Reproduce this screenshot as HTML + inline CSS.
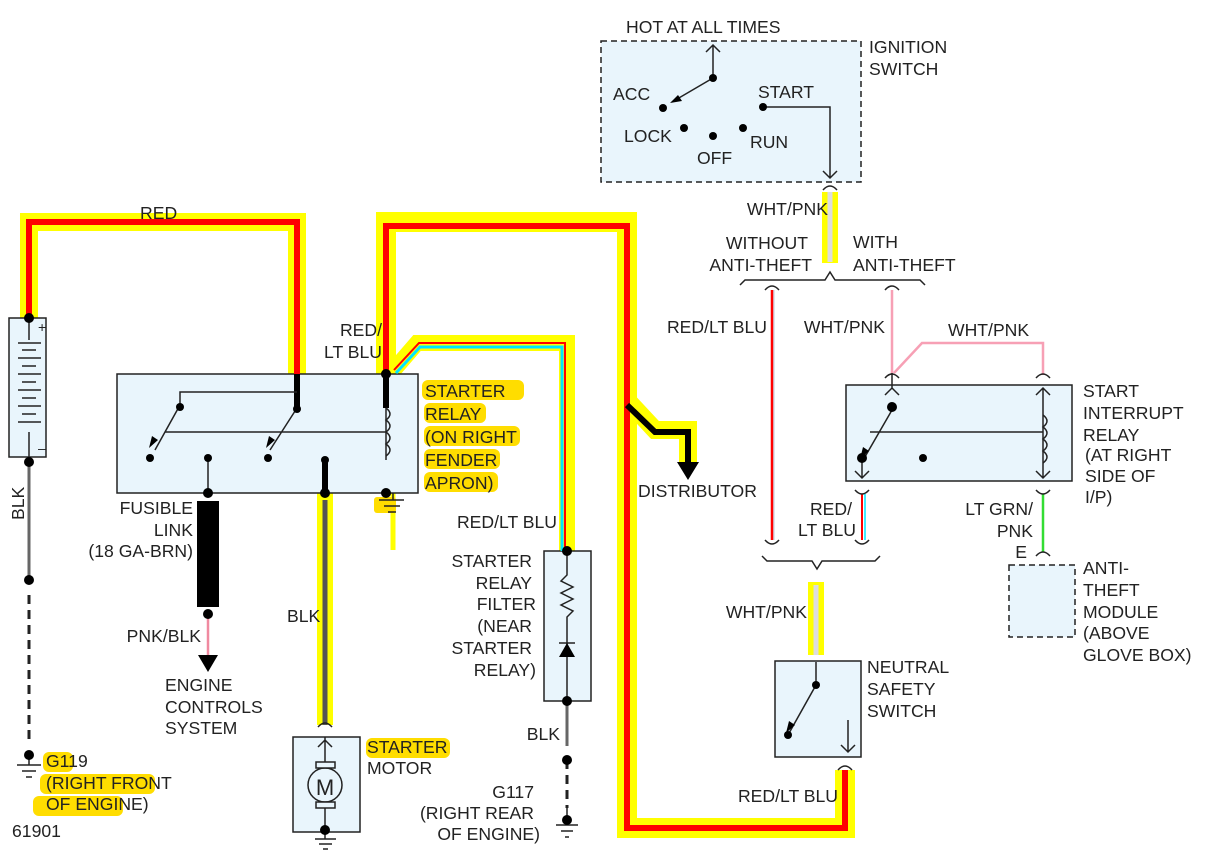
<!DOCTYPE html>
<html><head><meta charset="utf-8"><style>
html,body{margin:0;padding:0;background:#fff;}
svg{display:block;font-family:"Liberation Sans",Arial,sans-serif;font-size:17.6px;fill:#222;}
</style></head><body>
<svg width="1217" height="850" viewBox="0 0 1217 850" xmlns="http://www.w3.org/2000/svg">
<g fill="none" stroke-linejoin="miter">
<path d="M29 318 V222 H297 V408" stroke="#ffff00" stroke-width="18"/>
<path d="M386 380 V222 H627 V828 H845 V770" stroke="#ffff00" stroke-width="20"/>
<path d="M392 372 L417 343 H567 V551" stroke="#ffff00" stroke-width="16"/>
<path d="M627 400 L655 430 H688 V462" stroke="#ffff00" stroke-width="18"/>
<path d="M325 460 V725" stroke="#ffff00" stroke-width="16"/>
<path d="M830 192 V263" stroke="#ffff00" stroke-width="16"/>
<path d="M816 582 V655" stroke="#ffff00" stroke-width="16"/>
<path d="M393 492 V550" stroke="#ffff00" stroke-width="5"/>
</g>
<g fill="#ffdd00">
<rect x="422" y="380" width="102" height="20" rx="6"/>
<rect x="424" y="403" width="62" height="20" rx="6"/>
<rect x="424" y="426" width="96" height="20" rx="6"/>
<rect x="424" y="449" width="76" height="20" rx="6"/>
<rect x="424" y="472" width="74" height="20" rx="6"/>
<rect x="366" y="738" width="84" height="20" rx="6"/>
<rect x="43" y="752" width="30" height="20" rx="6"/>
<rect x="40" y="774" width="115" height="20" rx="6"/>
<rect x="33" y="796" width="90" height="20" rx="6"/>
<rect x="374" y="497" width="22" height="16" rx="3"/>
</g>
<g stroke="#222" stroke-width="1.5" fill="#e9f5fc">
<rect x="9" y="318" width="37" height="139"/>
<rect x="117" y="374" width="301" height="119"/>
<rect x="846" y="385" width="226" height="96"/>
<rect x="775" y="661" width="86" height="96"/>
<rect x="544" y="551" width="47" height="150"/>
<rect x="293" y="737" width="67" height="95"/>
<rect x="601" y="41" width="260" height="141" stroke-dasharray="6 4"/>
<rect x="1009" y="565" width="66" height="72" stroke-dasharray="6 4"/>
</g>
<g fill="none">
<path d="M29 318 V222 H297 V408" stroke="#ff0000" stroke-width="6"/>
<path d="M386 380 V226 H627 V828 H845 V770" stroke="#ff0000" stroke-width="6"/>
<path d="M394 370 L419 343 H565 V551" stroke="#ff0000" stroke-width="2"/>
<path d="M396 373 L420 347 H562 V551" stroke="#00e5ff" stroke-width="3"/>
<path d="M627 405 L655 432 H688 V462" stroke="#000" stroke-width="6"/>
<path d="M297 374 V408 M386 374 V408 M325 460 V493" stroke="#000" stroke-width="6"/>
<path d="M325 500 V725" stroke="#555" stroke-width="5"/>
<path d="M830 192 V262" stroke="#ddd" stroke-width="5"/>
<path d="M816 585 V655" stroke="#ddd" stroke-width="5"/>
<path d="M29 462 V580 M567 701 V746" stroke="#666" stroke-width="3"/>
<path d="M29 595 V740 M567 760 V808" stroke="#222" stroke-width="3" stroke-dasharray="9 6"/>
<path d="M208 612 V655" stroke="#f08aa0" stroke-width="2.5"/>
<path d="M772 290 V540" stroke="#ff0000" stroke-width="2.5"/>
<path d="M774 290 V540" stroke="#bcd" stroke-width="1"/>
<path d="M892 290 V375 M894 373 L922 343 H1043 V375" stroke="#f7a0b5" stroke-width="2.5"/>
<path d="M862 494 V540" stroke="#ff0000" stroke-width="2"/>
<path d="M865 494 V540" stroke="#00e5ff" stroke-width="1.5"/>
<path d="M1043 494 V552" stroke="#33dd33" stroke-width="2.5"/>
<g stroke="#222" stroke-width="1.5">
<path d="M29 318 V340 M18 343 H41 M22 350 H36 M18 358 H41 M22 366 H36 M18 374 H41 M22 382 H36 M18 390 H41 M22 398 H36 M18 406 H41 M22 414 H36 M18 422 H41 M29 432 V457"/>
<path d="M297 392 H180 V405 L155 450 M297 408 L270 450 M208 458 V493 M386 408 V460 M165 432 H386" />
<path d="M386 408 q8 6 0 12 q8 6 0 12 q8 6 0 12 q8 6 0 12" />
<path d="M713 78 V45 M706 52 L713 45 L720 52 M713 78 L672 102 M763 107 H830 V178 M823 171 L830 178 L837 171"/>
<path d="M892 373 V388 M885 395 L892 388 L899 395 M892 410 L862 462 V478 M855 471 L862 478 L869 471 M1043 388 V478 M1036 395 L1043 388 L1050 395 M1036 471 L1043 478 L1050 471 M870 432 H1043"/>
<path d="M1043 415 q8 6 0 12 q8 6 0 12 q8 6 0 12 q8 6 0 12"/>
<path d="M816 662 V685 L788 735 M848 720 V752 M841 745 L848 752 L855 745"/>
<path d="M567 551 V575 l-6 6 l12 6 l-12 6 l12 6 l-12 6 l12 6 l-6 6 V701 M559 643 H575"/>
<path d="M325 737 V790 M318 747 L325 740 L332 747 M325 800 V832"/>
<path d="M740 285 l5 -5 H825 l5 -8 l5 8 H920 l5 5"/>
<path d="M762 556 l5 5 H812 l5 8 l5 -8 H875 l5 -5"/>
<path d="M765 290 q7 -8 14 0 M885 290 q7 -8 14 0 M765 540 q7 8 14 0 M855 540 q7 8 14 0 M855 490 q7 8 14 0 M1036 490 q7 8 14 0 M885 378 q7 -8 14 0 M1036 378 q7 -8 14 0 M1036 556 q7 -8 14 0 M823 190 q7 -8 14 0 M318 727 q7 -8 14 0 M838 770 q7 -8 14 0"/>
<path d="M17 765 H41 M22 771 H36 M26 777 H32 M379 500 H404 M384 506 H400 M388 512 H396 M393 493 V500 M315 839 H336 M319 844 H332 M323 849 H328 M325 832 V839 M556 825 H578 M561 831 H573 M565 837 H569 M567 808 V825 M29 758 V765"/>
<circle cx="325" cy="785" r="17" fill="#e9f5fc"/>
<rect x="316" y="762" width="19" height="6" fill="#e9f5fc"/><rect x="316" y="802" width="19" height="6" fill="#e9f5fc"/>
</g>
</g>
<g fill="#000">
<path d="M198 655 H218 L208 672Z M677 462 H699 L688 480Z M149 448 l3 -12 l6 4Z M266 448 l3 -12 l6 4Z M670 103 l12 -2 l-4 -6Z M860 459 l3 -12 l6 4Z M786 733 l3 -12 l6 4Z M559 657 H575 L567 643Z"/>
<rect x="197" y="501" width="22" height="106"/>
<g>
<circle cx="29" cy="462" r="5"/><circle cx="29" cy="580" r="5"/><circle cx="29" cy="755" r="5"/>
<circle cx="180" cy="407" r="4"/><circle cx="150" cy="458" r="4"/><circle cx="208" cy="458" r="4"/><circle cx="268" cy="458" r="4"/>
<circle cx="208" cy="493" r="5"/><circle cx="208" cy="614" r="5"/><circle cx="297" cy="409" r="4"/><circle cx="325" cy="460" r="4"/><circle cx="325" cy="493" r="5"/>
<circle cx="386" cy="374" r="5"/><circle cx="386" cy="493" r="5"/><circle cx="29" cy="318" r="5"/>
<circle cx="713" cy="78" r="4"/><circle cx="663" cy="108" r="4"/><circle cx="684" cy="128" r="4"/><circle cx="713" cy="136" r="4"/><circle cx="743" cy="128" r="4"/><circle cx="763" cy="107" r="4"/>
<circle cx="892" cy="407" r="5"/><circle cx="862" cy="458" r="5"/><circle cx="923" cy="458" r="4"/>
<circle cx="816" cy="685" r="4"/><circle cx="788" cy="735" r="4"/>
<circle cx="567" cy="551" r="5"/><circle cx="567" cy="701" r="5"/><circle cx="567" cy="760" r="5"/><circle cx="567" cy="820" r="5"/><circle cx="325" cy="830" r="5"/>
</g>
</g>
<text x="325" y="795" text-anchor="middle" font-size="22">M</text>
<text x="38" y="332" font-size="14">+</text><text x="38" y="453" font-size="14">–</text>
<text x="140" y="219">RED</text>
<g text-anchor="end">
<text x="382" y="336">RED/</text><text x="382" y="358">LT BLU</text>
<text x="193" y="514">FUSIBLE</text><text x="193" y="536">LINK</text><text x="193" y="557">(18 GA-BRN)</text>
<text x="201" y="642">PNK/BLK</text>
<text x="557" y="528">RED/LT BLU</text>
<text x="532" y="567">STARTER</text><text x="532" y="589">RELAY</text><text x="536" y="610">FILTER</text><text x="532" y="632">(NEAR</text><text x="532" y="654">STARTER</text><text x="536" y="676">RELAY)</text>
<text x="560" y="740">BLK</text>
<text x="534" y="798">G117</text><text x="534" y="819">(RIGHT REAR</text><text x="540" y="840">OF ENGINE)</text>
<text x="828" y="215">WHT/PNK</text>
<text x="808" y="249">WITHOUT</text><text x="812" y="271">ANTI-THEFT</text>
<text x="767" y="333">RED/LT BLU</text><text x="885" y="333">WHT/PNK</text>
<text x="852" y="515">RED/</text><text x="856" y="536">LT BLU</text>
<text x="1033" y="515">LT GRN/</text><text x="1033" y="537">PNK</text><text x="1027" y="558">E</text>
<text x="807" y="618">WHT/PNK</text>
<text x="838" y="802">RED/LT BLU</text>
</g>
<text x="425" y="397">STARTER</text><text x="425" y="420">RELAY</text><text x="425" y="443">(ON RIGHT</text><text x="425" y="466">FENDER</text><text x="425" y="489">APRON)</text>
<text x="24" y="520" transform="rotate(-90 24 520)">BLK</text>
<text x="165" y="691">ENGINE</text><text x="165" y="713">CONTROLS</text><text x="165" y="734">SYSTEM</text>
<text x="287" y="622">BLK</text>
<text x="367" y="753">STARTER</text><text x="367" y="774">MOTOR</text>
<text x="46" y="767">G119</text><text x="46" y="789">(RIGHT FRONT</text><text x="46" y="810">OF ENGINE)</text>
<text x="12" y="837">61901</text>
<text x="638" y="497">DISTRIBUTOR</text>
<text x="626" y="33">HOT AT ALL TIMES</text>
<text x="869" y="53">IGNITION</text><text x="869" y="75">SWITCH</text>
<text x="613" y="100">ACC</text><text x="758" y="98">START</text><text x="624" y="142">LOCK</text><text x="750" y="148">RUN</text><text x="697" y="164">OFF</text>
<text x="853" y="248">WITH</text><text x="853" y="271">ANTI-THEFT</text>
<text x="948" y="336">WHT/PNK</text>
<text x="1083" y="397">START</text><text x="1083" y="419">INTERRUPT</text><text x="1083" y="441">RELAY</text><text x="1085" y="461">(AT RIGHT</text><text x="1085" y="482">SIDE OF</text><text x="1085" y="503">I/P)</text>
<text x="1083" y="574">ANTI-</text><text x="1083" y="596">THEFT</text><text x="1083" y="618">MODULE</text><text x="1083" y="639">(ABOVE</text><text x="1083" y="661">GLOVE BOX)</text>
<text x="867" y="673">NEUTRAL</text><text x="867" y="695">SAFETY</text><text x="867" y="717">SWITCH</text>
</svg>
</body></html>
